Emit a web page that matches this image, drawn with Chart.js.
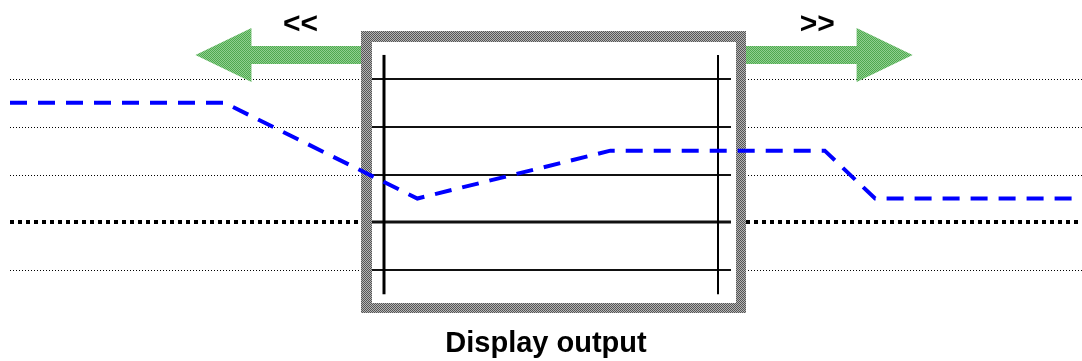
<!DOCTYPE html>
<html>
<head>
<meta charset="utf-8">
<title>Display output</title>
<script src="https://cdn.jsdelivr.net/npm/chart.js@4.4.0/dist/chart.umd.min.js"></script>
<style>
  html, body { margin: 0; padding: 0; background: #fff; }
  #wrap { width: 1082px; height: 361px; }
</style>
</head>
<body>
<div id="wrap"><canvas id="chart"></canvas></div>
<script>
// signal: positions on the time axis (0..100) and the level at each point
const positions = [0, 20, 38, 56, 76, 80.7, 100];
const levels = [2.5, 2.5, 0.5, 1.5, 1.5, 0.5, 0.5];

// horizontal level lines, 0 is the base line
const gridLevels = [3, 2, 1, 0, -1];
const baseLevel = 0;

// display window and its two cursors (axis units)
const windowX = [32.7, 68.7];
const windowY = [-1.9, 4];
const cursorX = [34.9, 66.0];
const cursorY = [3.5, -1.5];

// scroll arrows
const arrowTips = [17.3, 84.2];
const arrowLevel = 3.5;
const arrowLabels = ["<<", ">>"];
const arrowLabelX = [27.1, 75.3];
const titleText = "Display output";

// 2x2 checker fill, like the dithered look of the original
function checker(c1, c2) {
  const p = document.createElement("canvas");
  p.width = 2;
  p.height = 2;
  const g = p.getContext("2d");
  g.fillStyle = c1;
  g.fillRect(0, 0, 2, 2);
  g.fillStyle = c2;
  g.fillRect(0, 0, 1, 1);
  g.fillRect(1, 1, 1, 1);
  return p;
}

const overlay = {
  id: "overlay",
  beforeDatasetsDraw(chart) {
    const { ctx, scales: { x, y } } = chart;
    const left = x.getPixelForValue(0);
    const right = chart.width;
    ctx.save();

    // dotted level lines across the whole width
    gridLevels.forEach((v) => {
      const py = Math.round(y.getPixelForValue(v));
      ctx.beginPath();
      ctx.strokeStyle = "#000";
      if (v === baseLevel) {
        ctx.lineWidth = 4;
        ctx.setLineDash([4, 4]);
        ctx.moveTo(left, py);
        ctx.lineTo(right, py);
      } else {
        ctx.lineWidth = 1;
        ctx.setLineDash([1, 2]);
        ctx.moveTo(left, py + 0.5);
        ctx.lineTo(right, py + 0.5);
      }
      ctx.stroke();
    });
    ctx.setLineDash([]);

    // display window frame
    const bx0 = Math.round(x.getPixelForValue(windowX[0]));
    const bx1 = Math.round(x.getPixelForValue(windowX[1]));
    const by0 = Math.round(y.getPixelForValue(windowY[1]));
    const by1 = Math.round(y.getPixelForValue(windowY[0]));
    const frame = 11;
    ctx.fillStyle = ctx.createPattern(checker("#b4b4b4", "#555"), "repeat");
    ctx.fillRect(bx0, by0, bx1 - bx0, by1 - by0);
    ctx.fillStyle = "#fff";
    ctx.fillRect(bx0 + frame, by0 + frame, bx1 - bx0 - 2 * frame + 1, by1 - by0 - 2 * frame + 1);

    // solid level lines inside the window
    gridLevels.forEach((v) => {
      const py = Math.round(y.getPixelForValue(v));
      ctx.beginPath();
      ctx.strokeStyle = "#111";
      ctx.lineWidth = v === baseLevel ? 3 : 2;
      ctx.moveTo(bx0 + frame, py);
      ctx.lineTo(bx1 - frame - 4, py);
      ctx.stroke();
    });

    // cursors
    const cy0 = y.getPixelForValue(cursorY[0]);
    const cy1 = y.getPixelForValue(cursorY[1]);
    cursorX.forEach((cx, i) => {
      const px = Math.round(x.getPixelForValue(cx));
      ctx.beginPath();
      ctx.strokeStyle = "#000";
      ctx.lineWidth = i === 0 ? 3 : 2;
      ctx.moveTo(px, cy0);
      ctx.lineTo(px, cy1);
      ctx.stroke();
    });

    // green scroll arrows
    const ay = y.getPixelForValue(arrowLevel);
    const head = 56, headHalf = 27, shaftHalf = 9;
    ctx.fillStyle = ctx.createPattern(checker("#8fd08f", "#4fa84f"), "repeat");
    arrowTips.forEach((t, i) => {
      const tip = x.getPixelForValue(t);
      const dir = i === 0 ? 1 : -1;
      const base = tip + dir * head;
      const end = i === 0 ? bx0 : bx1;
      ctx.beginPath();
      ctx.moveTo(tip, ay);
      ctx.lineTo(base, ay - headHalf);
      ctx.lineTo(base, ay - shaftHalf);
      ctx.lineTo(end, ay - shaftHalf);
      ctx.lineTo(end, ay + shaftHalf);
      ctx.lineTo(base, ay + shaftHalf);
      ctx.lineTo(base, ay + headHalf);
      ctx.closePath();
      ctx.fill();
    });

    // arrow labels
    ctx.fillStyle = "#000";
    ctx.font = "bold 30px 'Liberation Sans', Arial, sans-serif";
    ctx.textAlign = "center";
    ctx.textBaseline = "middle";
    arrowLabels.forEach((t, i) => {
      ctx.fillText(t, x.getPixelForValue(arrowLabelX[i]), 25);
    });

    ctx.restore();
  },
};

new Chart(document.getElementById("chart"), {
  type: "line",
  data: {
    datasets: [
      {
        data: positions.map((p, i) => ({ x: p, y: levels[i] })),
        borderColor: "#0000ff",
        borderWidth: 4,
        borderDash: [17, 11],
        borderCapStyle: "butt",
        tension: 0,
        pointRadius: 0,
        fill: false,
      },
    ],
  },
  options: {
    responsive: true,
    maintainAspectRatio: false,
    animation: false,
    layout: { padding: { left: 10, right: 0, top: 31, bottom: 0 } },
    scales: {
      x: { type: "linear", min: 0, max: 100, display: false },
      y: { min: -2, max: 4, display: false },
    },
    plugins: {
      legend: { display: false },
      tooltip: { enabled: false },
      title: {
        display: true,
        position: "bottom",
        text: titleText,
        color: "#000",
        font: { family: "'Liberation Sans', Arial, sans-serif", size: 29, weight: "bold" },
        padding: { top: 8, bottom: 0 },
      },
    },
  },
  plugins: [overlay],
});
</script>
</body>
</html>
